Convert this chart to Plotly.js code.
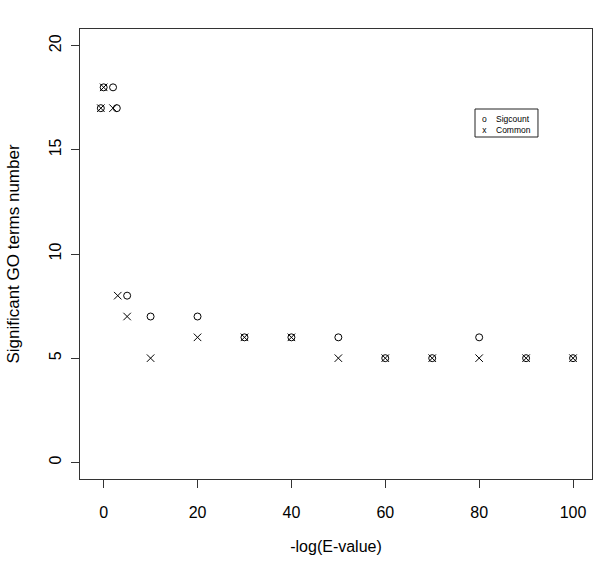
<!DOCTYPE html>
<html>
<head>
<meta charset="utf-8">
<script src="https://cdn.plot.ly/plotly-3.0.1.min.js"></script>
<style>html,body{margin:0;padding:0;background:#fff;}#chart{width:600px;height:569px;}</style>
</head>
<body>
<div id="chart"></div>
<script>
// Sigcount (open circles)
const sigcountX = [0, 2, -0.6, 2.8, 5, 10, 20, 30, 40, 50, 60, 70, 80, 90, 100];
const sigcountY = [18, 18, 17, 17, 8, 7, 7, 6, 6, 6, 5, 5, 6, 5, 5];
// Common (crosses)
const commonX = [0, -0.6, 2, 3, 5, 10, 20, 30, 40, 50, 60, 70, 80, 90, 100];
const commonY = [18, 17, 17, 8, 7, 5, 6, 6, 6, 5, 5, 5, 5, 5, 5];
const seriesNames = ["Sigcount", "Common"];
const legendSymbols = ["o", "x"];
const xTicks = [0, 20, 40, 60, 80, 100];
const yTicks = [0, 5, 10, 15, 20];

const font = "Liberation Sans, Arial, Helvetica, sans-serif";
const traces = [
  {x: sigcountX, y: sigcountY, name: seriesNames[0], mode: "markers", type: "scatter",
   marker: {symbol: "circle-open", size: 7, color: "#000", line: {width: 1, color: "#000"}}},
  {x: commonX, y: commonY, name: seriesNames[1], mode: "markers", type: "scatter",
   marker: {symbol: "x-thin-open", size: 7.5, color: "#000", line: {width: 1, color: "#000"}}}
];

// manual R-style compact legend
const legX0 = 0.7715, legX1 = 0.8945, legY0 = 0.76, legY1 = 0.8222;
const legMidY = 0.7878;
const annotations = [
  {xref: "paper", yref: "paper", x: 0.791, y: legMidY, text: legendSymbols.join("<br>"),
   showarrow: false, xanchor: "center", yanchor: "middle", borderpad: 0, font: {size: 8.5, family: font}},
  {xref: "paper", yref: "paper", x: 0.8105, y: legMidY, text: seriesNames.join("<br>"),
   showarrow: false, xanchor: "left", yanchor: "middle", align: "left", borderpad: 0, font: {size: 8.5, family: font}}
];

const layout = {
  width: 600, height: 569,
  margin: {l: 80, r: 8, t: 29, b: 90},
  paper_bgcolor: "#fff", plot_bgcolor: "#fff",
  font: {family: font, color: "#000", size: 16},
  showlegend: false,
  annotations: annotations,
  shapes: [{type: "rect", xref: "paper", yref: "paper", x0: legX0, x1: legX1, y0: legY0, y1: legY1,
    line: {color: "#222", width: 1}, fillcolor: "rgba(0,0,0,0)"}],
  xaxis: {range: [-5.04, 104.04], tickvals: xTicks, ticktext: xTicks.map(String),
    ticks: "outside", ticklen: 8, tickcolor: "#333", showline: true, mirror: true,
    linecolor: "#333", linewidth: 1, showgrid: false, zeroline: false,
    ticklabelstandoff: 11, tickfont: {size: 16},
    title: {text: "-log(E-value)", font: {size: 16}, standoff: 20}},
  yaxis: {range: [-0.8, 20.8], tickvals: yTicks, ticktext: yTicks.map(String),
    ticks: "outside", ticklen: 8, tickcolor: "#333", showline: true, mirror: true,
    linecolor: "#333", linewidth: 1, showgrid: false, zeroline: false,
    tickangle: -90, ticklabelstandoff: 4, tickfont: {size: 16},
    title: {text: "Significant GO terms number", font: {size: 17}, standoff: 22}}
};
Plotly.newPlot("chart", traces, layout, {displayModeBar: false, staticPlot: true});
</script>
</body>
</html>
